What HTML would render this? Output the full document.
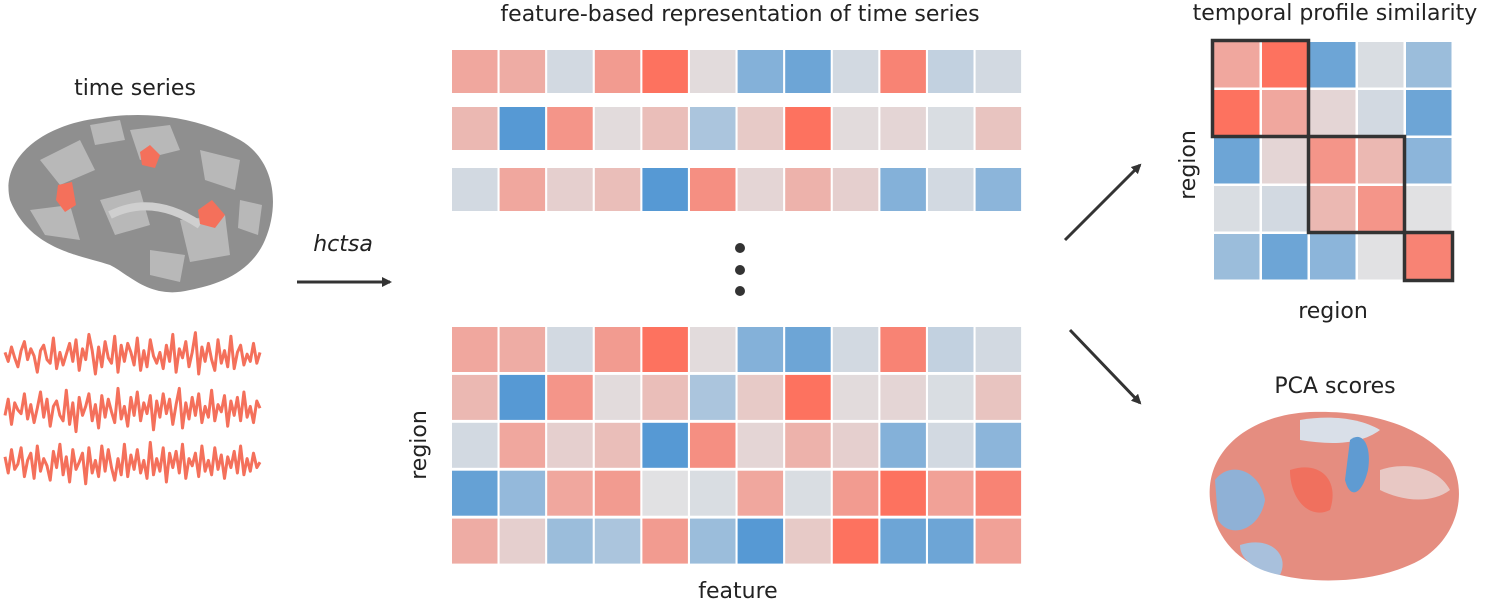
<!DOCTYPE html>
<html><head><meta charset="utf-8"><style>
body{margin:0;background:#fff;width:1500px;height:602px;overflow:hidden;font-family:"Liberation Sans","DejaVu Sans",sans-serif}
svg{display:block}
text{font-family:"DejaVu Sans","Liberation Sans",sans-serif;fill:#222}
</style></head><body>
<svg id="fig" width="1500" height="602">
<defs>
<marker id="ah" markerWidth="10" markerHeight="10" refX="8" refY="5" orient="auto" markerUnits="userSpaceOnUse"><path d="M0,0 L10,5 L0,10 z" fill="#333"/></marker>
</defs>
<text x="135" y="95" font-size="22" text-anchor="middle">time series</text>
<text x="740" y="21" font-size="22" text-anchor="middle">feature-based representation of time series</text>
<text x="1335" y="20" font-size="22" text-anchor="middle">temporal profile similarity</text>
<text x="1335" y="393" font-size="22" text-anchor="middle">PCA scores</text>
<text x="343" y="251" font-size="22" font-style="italic" text-anchor="middle">hctsa</text>
<text x="738" y="598" font-size="22" text-anchor="middle">feature</text>
<text x="1333" y="318" font-size="22" text-anchor="middle">region</text>
<text transform="translate(1195,165) rotate(-90)" font-size="22" text-anchor="middle">region</text>
<text transform="translate(426,445) rotate(-90)" font-size="22" text-anchor="middle">region</text>
<line x1="297" y1="282" x2="390" y2="282" stroke="#333" stroke-width="3" marker-end="url(#ah)"/>
<line x1="1065" y1="240" x2="1140" y2="165" stroke="#333" stroke-width="3" marker-end="url(#ah)"/>
<line x1="1070" y1="330" x2="1140" y2="403" stroke="#333" stroke-width="3" marker-end="url(#ah)"/>
<circle cx="740" cy="248" r="5" fill="#333"/>
<circle cx="740" cy="270" r="5" fill="#333"/>
<circle cx="740" cy="291" r="5" fill="#333"/>
<g>
<path d="M10,200 C0,160 40,125 100,118 C150,110 200,118 240,140 C275,160 280,205 265,240 C250,275 215,285 190,290 C150,300 130,275 110,265 C80,255 30,250 10,200 Z" fill="#8f8f8f"/>
<path d="M40,160 L80,140 L95,170 L60,185 Z M130,130 L170,125 L180,150 L140,160 Z M200,150 L240,160 L235,190 L205,180 Z M100,200 L140,190 L150,225 L115,235 Z M180,220 L225,215 L230,255 L190,262 Z M30,210 L70,205 L80,240 L45,235 Z M90,125 L120,120 L125,140 L95,145 Z M240,200 L262,205 L258,235 L238,228 Z M150,250 L185,255 L180,282 L150,275 Z" fill="#b8b8b8"/>
<path d="M110,215 C140,200 170,205 200,225" stroke="#cfcfcf" stroke-width="8" fill="none"/>
<path d="M140,152 L150,145 L160,155 L155,168 L142,165 Z" fill="#f4705b"/>
<path d="M58,185 L72,182 L76,205 L65,212 L56,200 Z" fill="#f4705b"/>
<path d="M198,210 L212,200 L225,215 L215,228 L200,224 Z" fill="#f4705b"/>
</g>
<g>
<path d="M1210,500 C1205,450 1250,415 1310,412 C1370,410 1420,425 1450,460 C1470,495 1455,540 1420,560 C1380,582 1320,585 1280,575 C1240,565 1215,540 1210,500 Z" fill="#e58d80"/>
<path d="M1215,480 C1230,460 1260,470 1265,500 C1260,530 1230,540 1218,520 Z" fill="#8fb1d6"/>
<path d="M1300,420 C1330,415 1360,418 1380,430 C1360,445 1330,445 1300,440 Z" fill="#d9dfe8"/>
<path d="M1350,440 C1362,430 1372,445 1368,470 C1362,495 1350,500 1345,480 Z" fill="#5f9bd2"/>
<path d="M1380,470 C1410,460 1440,470 1450,490 C1430,505 1400,500 1380,490 Z" fill="#e8c8c4"/>
<path d="M1290,470 C1320,460 1340,480 1330,510 C1310,520 1290,500 1290,470 Z" fill="#f0705e"/>
<path d="M1240,545 C1270,535 1290,555 1280,575 C1255,570 1240,560 1240,545 Z" fill="#a8c0dc"/>
</g>
<g id="ts"></g>
<g id="topHm"></g>
<g id="botHm"></g>
<g id="simHm"></g>
</svg>
<script>
const featRows = [
 [.5,.45,-.1,.6,.95,.05,-.6,-.75,-.1,.8,-.2,-.1],
 [.35,-.9,.65,.05,.3,-.35,.2,.95,.05,.1,-.05,.25],
 [-.1,.5,.15,.3,-.9,.7,.1,.4,.15,-.6,-.1,-.55],
 [-.8,-.5,.5,.6,0,-.05,.5,-.05,.6,.95,.55,.8],
 [.45,.15,-.45,-.35,.6,-.45,-.9,.2,.95,-.75,-.75,.55]
];
const simRows = [
 [.5,.95,-.75,-.05,-.45],
 [.95,.5,.1,-.1,-.75],
 [-.75,.1,.65,.35,-.55],
 [-.05,-.1,.35,.65,0],
 [-.45,-.75,-.55,0,.8]
];
const simBlocks = [[0,2],[2,2],[4,1]];
const trace1 = [2,-3,5,-1,-6,3,8,-2,4,0,-9,3,6,-2,-4,10,-7,2,-5,1,7,-3,9,-8,4,-2,12,3,-10,5,-6,8,-1,-4,11,-9,6,-3,7,2,-5,10,-8,3,-6,9,0,-4,2,-7,6,-3,12,-9,4,-1,8,-6,2,13,-10,5,-3,7,-2,-8,9,-4,3,-6,11,-7,2,6,-5,1,-3,7,-4,2];
const trace2 = [-3,6,-8,4,0,-2,9,-5,3,-7,1,10,-4,6,-9,2,5,-3,-6,11,-8,4,-12,7,-3,2,9,-6,3,-10,8,-4,6,-1,-7,12,-5,2,-9,7,-3,10,-6,4,-2,8,-11,5,-4,9,-2,6,-8,3,12,-10,4,-5,7,-3,9,-7,2,-4,11,-6,3,-1,8,-9,5,-3,7,-6,10,-4,2,-7,5,1];
const trace3 = [4,-5,8,-3,0,9,-7,2,6,-8,10,-4,3,-1,-9,7,-2,11,-6,4,-10,8,-3,1,6,-11,9,-5,2,-7,10,-4,8,-2,-9,3,-6,11,-7,5,-3,8,-5,2,-8,12,-6,3,-4,9,-10,6,-2,7,-5,11,-8,3,-1,6,-7,10,-4,2,-6,9,-3,5,-8,4,-2,7,-5,10,-6,3,-4,6,-2,1];
const NS='http://www.w3.org/2000/svg';
function col(v){
  const neg=[70,145,210], neu=[225,225,227], pos=[254,108,88];
  const t=Math.min(1,Math.abs(v)), e=v<0?neg:pos;
  return 'rgb('+neu.map((n,i)=>Math.round(n+(e[i]-n)*t)).join(',')+')';
}
function rect(g,x,y,w,h,fill){const r=document.createElementNS(NS,'rect');r.setAttribute('x',x);r.setAttribute('y',y);r.setAttribute('width',w);r.setAttribute('height',h);r.setAttribute('fill',fill);g.appendChild(r);return r;}
const fx=c=>452+c*47.6, cw=45.5;
const topG=document.getElementById('topHm'), topY=[50,107,168];
for(let r=0;r<3;r++)for(let c=0;c<12;c++){
  const el=rect(topG,fx(c),topY[r],cw,43,col(featRows[r][c]));
  
  
}
const bot=document.getElementById('botHm');
for(let r=0;r<5;r++)for(let c=0;c<12;c++){
  const el=rect(bot,fx(c),327+r*47.9,cw,45,col(featRows[r][c]));
  
  
}
const sim=document.getElementById('simHm'), sx=i=>1214+i*48, sp=48;
for(let r=0;r<5;r++)for(let c=0;c<5;c++){
  const el=rect(sim,sx(c),sx(r)-1172,45.5,45.5,col(simRows[r][c]));
  
  
}
simBlocks.forEach(b=>{
  const el=rect(sim,sx(b[0])-1.5,sx(b[0])-1172-1.5,b[1]*sp,b[1]*sp,'none');
  el.setAttribute('stroke','#333');el.setAttribute('stroke-width','3.5');
  
  
});
const ts=document.getElementById('ts');
[[trace1,356],[trace2,410],[trace3,464]].forEach(([d,y0])=>{
  const p=document.createElementNS(NS,'path');
  const step=255/(d.length-1);
  p.setAttribute('d',d.map((v,i)=>(i?'L':'M')+(5+i*step).toFixed(1)+','+(y0-v*1.8).toFixed(1)).join(' '));
  p.setAttribute('stroke','#f4705b');p.setAttribute('stroke-width','3');p.setAttribute('fill','none');p.setAttribute('stroke-linejoin','round');
  
  
  ts.appendChild(p);
});
</script>
</body></html>
